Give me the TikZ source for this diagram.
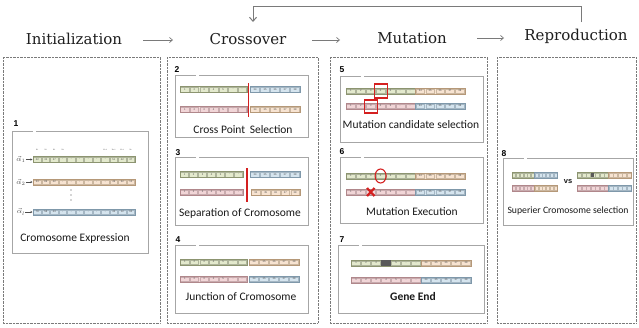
\documentclass[tikz,border=0pt]{standalone}
\usepackage{fontspec}
\newfontfamily\capfont{Carlito}
\newfontfamily\numfont{Liberation Sans}
\newfontfamily\titlefont{DejaVu Serif}
\usetikzlibrary{arrows.meta}
\definecolor{gF}{HTML}{E3E9CD}\definecolor{gD}{HTML}{8C9470}
\definecolor{bF}{HTML}{D5E4EE}\definecolor{bD}{HTML}{7F98AA}
\definecolor{pF}{HTML}{F1D5D7}\definecolor{pD}{HTML}{B0878B}
\definecolor{oF}{HTML}{F7E3D1}\definecolor{oD}{HTML}{B59878}
\definecolor{lineG}{HTML}{7A7A7A}
\definecolor{redL}{HTML}{D42020}
\tikzset{
  titletext/.style={font=\titlefont\fontsize{15}{18}\selectfont, anchor=base, inner sep=0pt, text=black!88},
  arr/.style={lineG, line width=0.7pt, -{Straight Barb[length=3pt,width=5pt]}},
  fbarr/.style={lineG, line width=1pt, -{Straight Barb[length=4pt,width=7pt]}},
  panel/.style={draw=lineG, line width=0.7pt, dash pattern=on 0.7pt off 0.7pt},
  ibox/.style={draw=black!35, line width=0.8pt},
  captext/.style={font=\capfont\fontsize{11.5}{13}\selectfont, text=black!90, inner sep=0pt},
  numtext/.style={font=\numfont\bfseries\fontsize{8.5}{10}\selectfont, inner sep=0pt},
  ctext/.style={font=\numfont\fontsize{2.6}{3}\selectfont, text=black!70, inner sep=0pt},
  alab/.style={font=\fontsize{7}{8}\selectfont, inner sep=0pt, text=black!70},
  redm/.style={draw=redL, line width=1.1pt},
}
\newcommand{\xs}[1]{x\raisebox{-0.4pt}{\fontsize{1.6}{2}\selectfont #1}}
% group of cells with labels: x, y, cell width, n, colour letter, labels
\newcommand{\grp}[6]{%
  \fill[#5F] (#1,{#2-3}) rectangle ({#1+#4*#3},{#2+3});
  \foreach \lab [count=\k from 0] in {#6}{
    \draw[#5D!70, line width=0.25pt] ({#1+\k*#3+0.6},{#2-2.3}) rectangle ({#1+(\k+1)*#3-0.6},{#2+2.3});
    \node[ctext] at ({#1+(\k+0.5)*#3},#2) {\lab};
  }
  \draw[#5D, line width=0.5pt] (#1,{#2-3}) rectangle ({#1+#4*#3},{#2+3});
}
% group of cells without labels
\newcommand{\grpn}[5]{%
  \fill[#5F] (#1,{#2-3}) rectangle ({#1+#4*#3},{#2+3});
  \foreach \k in {1,...,#4}{
    \draw[#5D!70, line width=0.2pt] ({#1+(\k-1)*#3+0.4},{#2-2.3}) rectangle ({#1+\k*#3-0.4},{#2+2.3});
  }
  \draw[#5D, line width=0.5pt] (#1,{#2-3}) rectangle ({#1+#4*#3},{#2+3});
}
% inner box with small gap in top border
\newcommand{\innerbox}[4]{%
  \draw[ibox] (#1,#2) rectangle (#3,#4);
  \fill[white] ({#1+21},{#2-1}) rectangle ({#1+24},{#2+1});
}
\begin{document}
\begin{tikzpicture}[x=1pt,y=-1pt]
\fill[white] (0,0) rectangle (639,327);
\useasboundingbox (0,0) rectangle (639,327);

% titles
\node[titletext] (init) at (74,44) {Initialization};
\node[titletext] (cross) at (248,44) {Crossover};
\node[titletext] (mut) at (412,43) {Mutation};
\node[titletext] (repro) at (576,40) {Reproduction};
\coordinate (a1s) at (143,40); \coordinate (a1e) at (173,40);
\coordinate (a2s) at (312,40); \coordinate (a2e) at (340,40);
\coordinate (a3s) at (477,38); \coordinate (a3e) at (504,38);
\draw[arr] (a1s) -- (a1e);
\draw[arr] (a2s) -- (a2e);
\draw[arr] (a3s) -- (a3e);
\coordinate (fbs) at (581,22); \coordinate (fbe) at (253,22);
\draw[fbarr] (fbs) -- (581,6) -- (253,6) -- (fbe);

% panels
\draw[panel] (3,57) rectangle (160,323);
\draw[panel] (167,57) rectangle (318,323);
\draw[panel] (330,57) rectangle (487,323);
\draw[panel] (497,57) rectangle (636,323);

% ---------- box 1
\innerbox{12}{131}{148}{253}
\node[numtext] (n1) at (16,124) {1};
\foreach \i/\t in {0/1,1/2,2/3,3/4,8/n-3,9/n-2,10/n-1,11/n}
  \node[ctext, font=\numfont\fontsize{2.4}{3}\selectfont] at ({33+(\i+0.5)*8.5},150) {\xs{\t}};
\grp{33}{159.5}{8.5}{12}{g}{22,32,37,-,-,-,-,-,-,51,42,37}
\grp{33}{182}{8.5}{12}{o}{53,89,42,-,-,-,-,-,-,49,52,12}
\grp{33}{212}{8.5}{12}{b}{78,58,43,-,-,-,-,-,-,43,12,62}
\node[alab] (al1) at (21,159.5) {$\vec{\alpha}_1$};
\node[alab] (al2) at (21,182) {$\vec{\alpha}_2$};
\node[alab] (al3) at (21,212) {$\vec{\alpha}_l$};
\coordinate (r1) at (32.5,159.5); \coordinate (r2) at (32.5,182); \coordinate (r3) at (32.5,212);
\draw[black!70, line width=0.4pt, -{Stealth[length=2pt,width=2pt]}] (al1.east) -- (r1);
\draw[black!70, line width=0.4pt, -{Stealth[length=2pt,width=2pt]}] (al2.east) -- (r2);
\draw[black!70, line width=0.4pt, -{Stealth[length=2pt,width=2pt]}] (al3.east) -- (r3);
\foreach \yy in {190,195,200} \fill[black!70] (71,\yy) circle (0.6);
\node[captext] (c1) at (75,238) {Cromosome Expression};

% ---------- box 2
\innerbox{175}{75}{308}{137}
\node[numtext] (n2) at (177,70) {2};
\grp{180}{89.5}{9.6}{7}{g}{1,2,3,4,5,..,..}
\grp{250}{89.5}{10}{5}{b}{34,35,36,37,38}
\grp{180}{109.5}{9.6}{7}{p}{1,2,3,4,5,..,..}
\grp{250}{109.5}{10}{5}{o}{34,35,36,37,38}
\draw[redL, line width=1.1pt] (248.5,83) -- (248.5,117);
\node[captext] (c2) at (243,130) {Cross Point\, Selection};

% ---------- box 3
\innerbox{175}{157}{308}{225}
\node[numtext] (n3) at (178,153) {3};
\grp{180}{174.5}{9}{7}{g}{1,2,3,4,5,..,..}
\grp{250}{174.5}{10}{5}{b}{34,35,36,37,38}
\grp{180}{192}{9}{7}{p}{1,2,3,4,5,..,..}
\grp{251}{192.5}{9.8}{5}{o}{34,35,36,37,38}
\draw[redL, line width=1.1pt] (247,168) -- (247,202);
\node[captext] (c3) at (240,213) {Separation of Cromosome};

% ---------- box 4
\innerbox{175}{245}{308}{313}
\node[numtext] (n4) at (178,240) {4};
\grp{180}{262}{9.6}{7}{g}{1,2,3,4,5,..,..}
\grp{249}{262}{10}{5}{o}{34,35,36,37,38}
\grp{180}{279}{9.6}{7}{p}{1,2,3,4,5,..,..}
\grp{249}{279}{10}{5}{b}{34,35,36,37,38}
\node[captext] (c4) at (241,297) {Junction of Cromosome};

% ---------- box 5
\innerbox{340}{76}{483}{142}
\node[numtext] (n5) at (342,70) {5};
\grp{346}{91}{9.9}{7}{g}{1,2,3,4,5,..,..}
\grp{415.3}{91}{9.9}{5}{o}{34,35,36,37,38}
\grp{346}{106}{9.9}{7}{p}{1,2,3,4,5,..,..}
\grp{415.3}{106}{9.9}{5}{b}{34,35,36,37,38}
\draw[redm] (374.5,84) rectangle (387.5,98);
\draw[redm] (364.5,100) rectangle (377.5,113);
\node[captext] (c5) at (411,125) {Mutation candidate selection};

% ---------- box 6
\innerbox{340}{157}{483}{223}
\node[numtext] (n6) at (342,152) {6};
\grp{346}{176}{9.9}{7}{g}{1,2,3,4,5,..,..}
\grp{415.3}{176}{9.9}{5}{o}{34,35,36,37,38}
\grp{346}{192}{9.9}{7}{p}{1,2,3,4,5,..,..}
\grp{415.3}{192}{9.9}{5}{b}{34,35,36,37,38}
\draw[redm] (380.6,176) ellipse (5.5 and 7);
\draw[redL, line width=2.2pt] (367,188) -- (374.5,196) (367,196) -- (374.5,188);
\node[captext] (c6) at (412,212) {Mutation Execution};

% ---------- box 7
\innerbox{338}{245}{484}{313}
\node[numtext] (n7) at (342,240) {7};
\grp{351}{263}{10}{7}{g}{1,2,3,4,5,..,..}
\fill[black!65] (381.3,260.4) rectangle (390.7,265.6);
\grp{421}{263}{10}{5}{o}{34,35,36,37,38}
\grp{351}{280}{10}{7}{p}{1,2,3,4,5,..,..}
\grp{421}{280}{10}{5}{b}{34,35,36,37,38}
\node[captext, font=\capfont\bfseries\fontsize{11.5}{13}\selectfont] (c7) at (413,296) {Gene End};

% ---------- box 8
\innerbox{503}{158}{633}{225}
\node[numtext] (n8) at (504,154) {8};
\grpn{512}{175}{3.75}{6}{g}
\grpn{534.5}{175}{3.75}{6}{b}
\grpn{512}{188}{3.75}{6}{p}
\grpn{534.5}{188}{3.75}{6}{o}
\node[captext, font=\numfont\bfseries\fontsize{7.5}{8}\selectfont] (vs) at (568,182) {vs};
\grpn{577}{175}{4.5}{7}{g}
\fill[black!65] (590.9,172.6) rectangle (594.1,177.4);
\grpn{608.5}{175}{4.5}{5}{o}
\grpn{577}{188}{4.5}{7}{p}
\grpn{608.5}{188}{4.5}{5}{b}
\node[captext, font=\capfont\fontsize{9.7}{11}\selectfont] (c8) at (568,211) {Superier Cromosome selection};
\end{tikzpicture}
\end{document}
